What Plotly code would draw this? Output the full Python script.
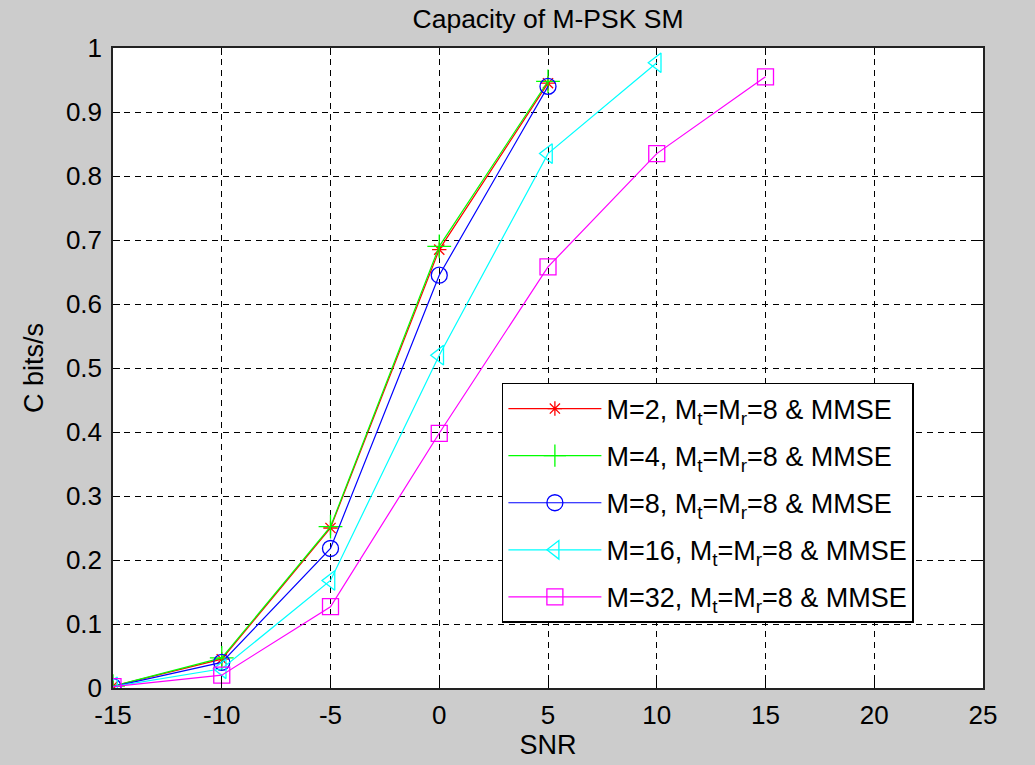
import plotly.graph_objects as go

snr = [-15, -10, -5, 0, 5, 10, 15]
x_ticks = [-15, -10, -5, 0, 5, 10, 15, 20, 25]
x_tick_labels = ["-15", "-10", "-5", "0", "5", "10", "15", "20", "25"]
y_ticks = [0, 0.1, 0.2, 0.3, 0.4, 0.5, 0.6, 0.7, 0.8, 0.9, 1]
y_tick_labels = ["0", "0.1", "0.2", "0.3", "0.4", "0.5", "0.6", "0.7", "0.8", "0.9", "1"]
names = [
    "M=2, M<sub>t</sub>=M<sub>r</sub>=8 & MMSE",
    "M=4, M<sub>t</sub>=M<sub>r</sub>=8 & MMSE",
    "M=8, M<sub>t</sub>=M<sub>r</sub>=8 & MMSE",
    "M=16, M<sub>t</sub>=M<sub>r</sub>=8 & MMSE",
    "M=32, M<sub>t</sub>=M<sub>r</sub>=8 & MMSE",
]
c_m2 = [0.003, 0.045, 0.250, 0.685, 0.945]
c_m4 = [0.003, 0.047, 0.252, 0.690, 0.948]
c_m8 = [0.002, 0.040, 0.218, 0.645, 0.940]
c_m16 = [0.002, 0.030, 0.168, 0.520, 0.835, 0.977]
c_m32 = [0.002, 0.020, 0.127, 0.398, 0.658, 0.835, 0.955]

series = [c_m2, c_m4, c_m8, c_m16, c_m32]
colors = ["#FF0000", "#00FF00", "#0000FF", "#00FFFF", "#FF00FF"]
symbols = ["asterisk-open", "cross-thin-open", "circle-open", "triangle-left-open", "square-open"]
sizes = [12, 17, 16, 17, 16]

fig = go.Figure()
for i, (name, vals, col, sym, sz) in enumerate(zip(names, series, colors, symbols, sizes)):
    fig.add_trace(go.Scatter(
        x=snr[:len(vals)], y=vals, name=name, mode="lines+markers",
        legendgroup=f"g{i}",
        line=dict(color=col, width=1.2),
        marker=dict(symbol=sym, size=sz, color=col, line=dict(color=col, width=1.3)),
    ))

FS = 26
FL = 27
axis_common = dict(
    showline=True, linecolor="#222222", linewidth=1.5, mirror="ticks",
    ticks="inside", ticklen=7, tickcolor="black", tickwidth=1,
    showgrid=True, gridcolor="black", griddash="6px,5px", gridwidth=1,
    zeroline=False, tickfont=dict(size=FS, color="black"),
)

fig.update_layout(
    width=1035, height=765,
    paper_bgcolor="#CCCCCC", plot_bgcolor="white",
    margin=dict(l=113, r=52, t=48, b=77),
    font=dict(family="Liberation Sans, Arial, sans-serif", color="black"),
    title=dict(text="Capacity of M-PSK SM", x=0.5, xref="paper", xanchor="center",
               y=1 - 19 / 765, yanchor="middle", font=dict(size=26.5)),
    xaxis=dict(range=[-15, 25], tickvals=x_ticks, ticktext=x_tick_labels,
               ticklabelstandoff=3,
               title=dict(text="SNR", font=dict(size=FL), standoff=2),
               **axis_common),
    yaxis=dict(range=[0, 1], tickvals=y_ticks, ticktext=y_tick_labels,
               ticklabelstandoff=4,
               title=dict(text="C bits/s", font=dict(size=FL), standoff=14),
               **axis_common),
    legend=dict(x=0.447, y=0.4766, xanchor="left", yanchor="top",
                bgcolor="white", bordercolor="black", borderwidth=1.5,
                font=dict(size=FL), tracegroupgap=9, itemwidth=93,
                entrywidth=318, entrywidthmode="pixels"),
    showlegend=True,
)

fig.write_html("out.html")
